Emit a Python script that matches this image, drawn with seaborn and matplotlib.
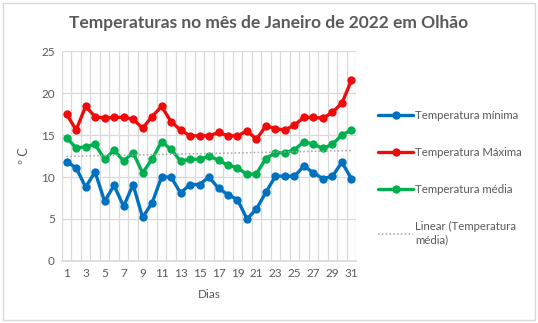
import numpy as np
import pandas as pd
import matplotlib
matplotlib.use("Agg")
import matplotlib.pyplot as plt
import seaborn as sns
from matplotlib.lines import Line2D
from matplotlib.patches import Rectangle

dias = list(range(1, 32))
t_min = [11.8, 11.1, 8.8, 10.6, 7.1, 9.0, 6.5, 9.1, 5.2, 6.9, 10.0, 10.0, 8.1, 9.1, 9.1, 10.0,
         8.65, 7.9, 7.3, 5.0, 6.2, 8.2, 10.1, 10.1, 10.1, 11.3, 10.5, 9.8, 10.1, 11.75, 9.8]
t_max = [17.5, 15.6, 18.4, 17.2, 17.0, 17.1, 17.1, 16.9, 15.8, 17.2, 18.4, 16.6, 15.6, 14.9, 14.9, 14.9,
         15.3, 14.9, 14.9, 15.5, 14.5, 16.1, 15.75, 15.6, 16.2, 17.1, 17.1, 17.0, 17.7, 18.8, 21.5]
t_med = [14.7, 13.45, 13.6, 13.9, 12.1, 13.2, 11.9, 12.9, 10.5, 12.1, 14.2, 13.3, 11.9, 12.1, 12.1, 12.5,
         12.0, 11.4, 11.1, 10.3, 10.4, 12.2, 12.9, 12.9, 13.25, 14.2, 13.9, 13.4, 13.9, 15.0, 15.6]
series_names = ["Temperatura mínima", "Temperatura Máxima", "Temperatura média"]
trend_label = "Linear (Temperatura\nmédia)"
title = "Temperaturas no mês de Janeiro de 2022 em Olhão"
xtick_labels = [str(d) for d in range(1, 32, 2)]
yticks = [0, 5, 10, 15, 20, 25]

colors = ["#0070C0", "#F00A0A", "#00B050"]

df = pd.DataFrame({
    "Dia": dias * 3,
    "Temp": t_min + t_max + t_med,
    "Serie": [series_names[0]] * 31 + [series_names[1]] * 31 + [series_names[2]] * 31,
})

sns.set_theme(style="white")
plt.rcParams["font.family"] = ["Lato", "DejaVu Sans"]
txt = "#595959"

fig = plt.figure(figsize=(5.38, 3.23), dpi=100)
ax = fig.add_axes([0.115, 0.192, 0.547, 0.650])

sns.lineplot(data=df, x="Dia", y="Temp", hue="Serie", palette=colors, marker="o",
             markersize=6, markeredgewidth=0, linewidth=2.4, ax=ax, legend=False)

coef = np.polyfit(dias, t_med, 1)
trend = np.polyval(coef, dias)
ax.plot(dias, trend, linestyle=(0, (1, 1.5)), color="#A6A6A6", linewidth=1.1)

ax.set_xlim(0.5, 31.5)
ax.set_ylim(0, 25)
ax.set_yticks(yticks)
ax.set_xticks(range(1, 32, 2))
ax.set_xticklabels(xtick_labels)
ax.set_xticks(np.arange(0.5, 32, 1), minor=True)
ax.grid(False)
ax.yaxis.grid(True, color="#D9D9D9", linewidth=0.9)
ax.xaxis.grid(True, which="minor", color="#D9D9D9", linewidth=0.9)
for s in ["top", "right", "left"]:
    ax.spines[s].set_visible(False)
ax.spines["bottom"].set_color("#D9D9D9")
ax.tick_params(axis="both", which="both", length=0, labelsize=8.5, colors=txt, pad=5)
ax.set_xlabel("Dias", fontsize=8.5, color=txt, labelpad=7)
ax.set_ylabel("º C", fontsize=9, color=txt, labelpad=8)

fig.text(0.5, 0.928, title, ha="center", va="center", fontsize=12.5, color=txt, fontweight="bold")

handles = [Line2D([], [], color=c, marker="o", markersize=6, markeredgewidth=0, linewidth=2.4) for c in colors]
handles.append(Line2D([], [], color="#A6A6A6", linestyle=(0, (1, 1.5)), linewidth=1.1))
leg = fig.legend(handles, series_names + [trend_label], loc="upper left",
                 bbox_to_anchor=(0.695, 0.675), frameon=False, fontsize=8.2,
                 labelspacing=2.3, handlelength=3.0, handletextpad=0.25, borderaxespad=0)
for t in leg.get_texts():
    t.set_color(txt)

fig.patches.append(Rectangle((0.006, 0.008), 0.988, 0.984, transform=fig.transFigure,
                             fill=False, edgecolor="#D9D9D9", linewidth=1))

fig.savefig("out.png", dpi=100)
